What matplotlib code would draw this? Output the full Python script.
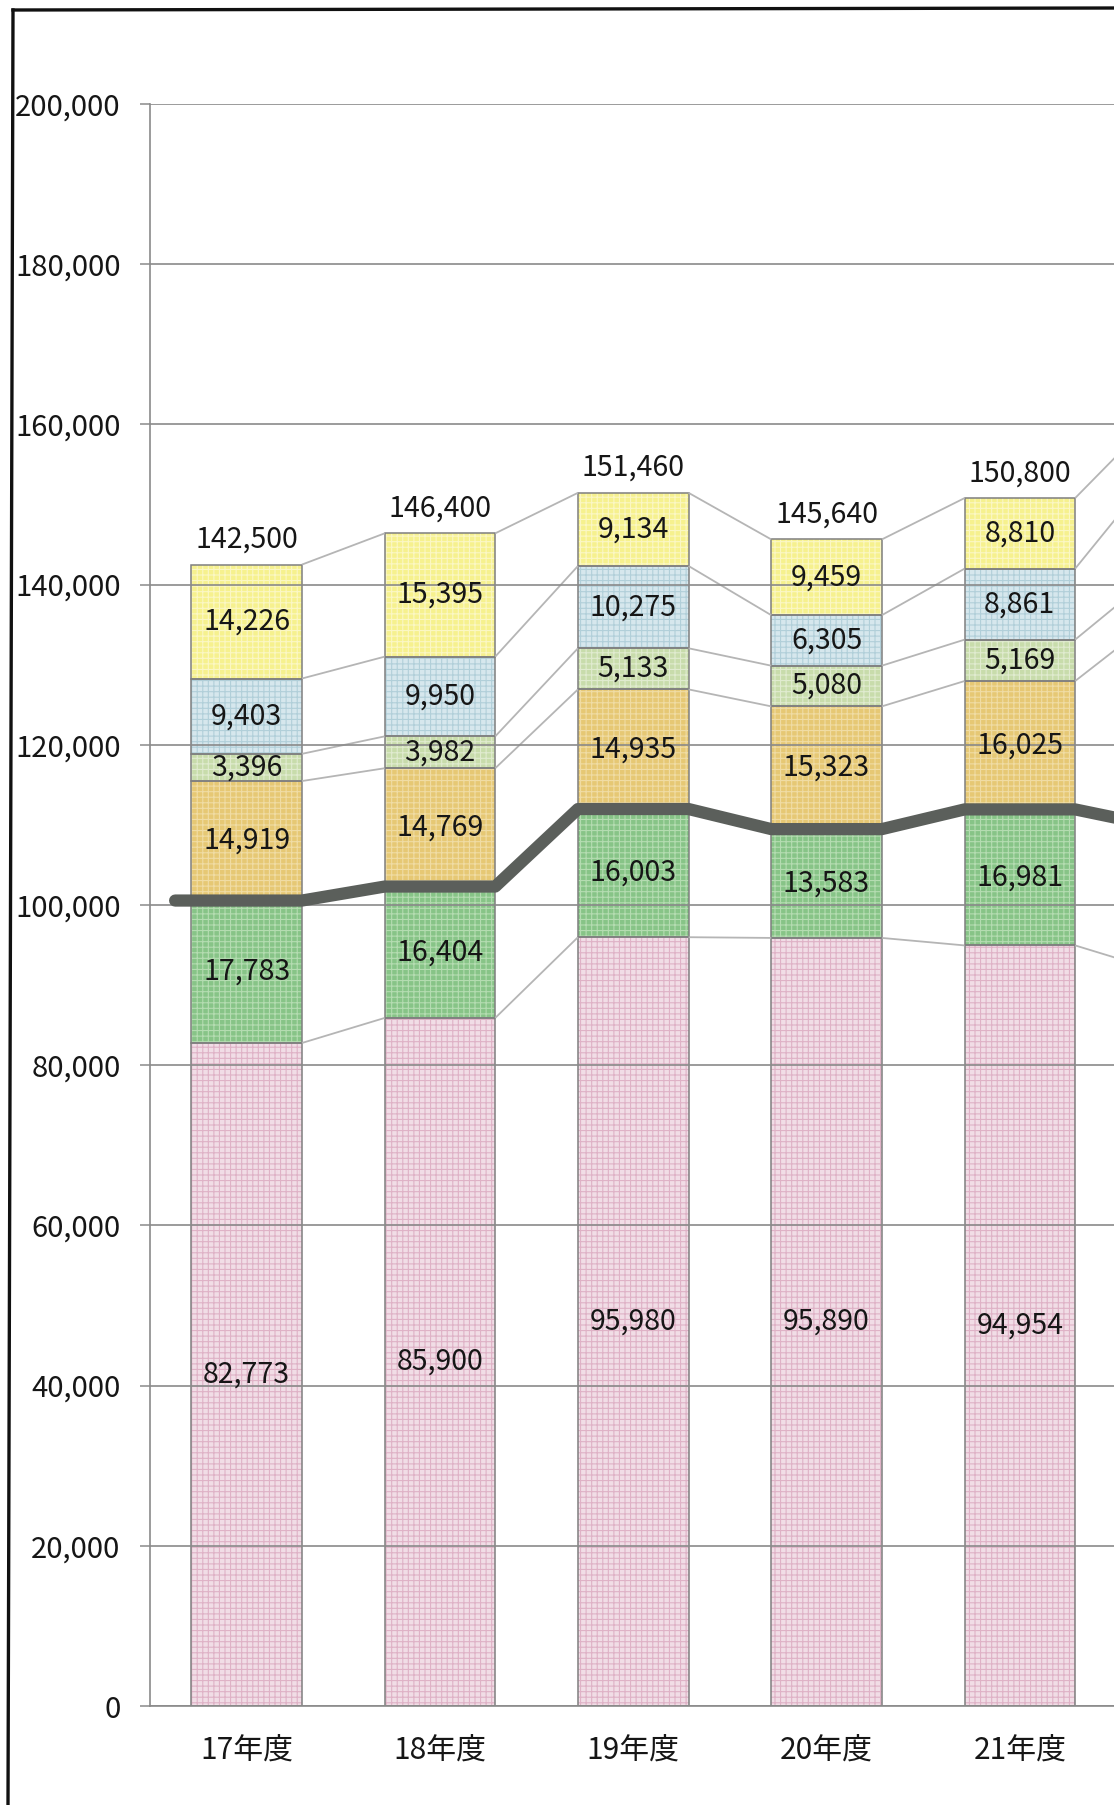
import matplotlib
matplotlib.use("Agg")
import matplotlib.pyplot as plt
from matplotlib.lines import Line2D
import numpy as np

plt.rcParams['font.family'] = ['Noto Sans CJK JP', 'DejaVu Sans']

# ---- data ----
categories = ['17年度', '18年度', '19年度', '20年度', '21年度', '22年度']
n_shown = 5  # the 22年度 column is cut off by the page edge
s_pink = [82773, 85900, 95980, 95890, 94954, 91800]
s_green = [17783, 16404, 16003, 13583, 16981, 18000]
s_tan = [14919, 14769, 14935, 15323, 16025, 26200]
s_lgreen = [3396, 3982, 5133, 5080, 5169, 5600]
s_blue = [9403, 9950, 10275, 6305, 8861, 13100]
s_yellow = [14226, 15395, 9134, 9459, 8810, 6600]
totals = [142500, 146400, 151460, 145640, 150800, 161300]
yticks = [0, 20000, 40000, 60000, 80000, 100000, 120000, 140000, 160000, 180000, 200000]

series = [s_pink, s_green, s_tan, s_lgreen, s_blue, s_yellow]
colors = ['#f1dde6', '#87c487', '#e6c874', '#c8dcab', '#d6e7ed', '#f6f18e']
hatch_colors = ['#dfb2c6', '#b4dcb1', '#f0dca4', '#e0ebcf', '#b1cfd9', '#fbf7c4']

W_PX, H_PX = 1114, 1805
fig = plt.figure(figsize=(W_PX / 100, H_PX / 100), dpi=100)
unit_px = 193.3
left_px, zero_px, top_px = 150, 1706, 104
ax = fig.add_axes([left_px / W_PX, (H_PX - zero_px) / H_PX,
                   len(categories) * unit_px / W_PX, (zero_px - top_px) / H_PX])

x = np.arange(len(categories)) + 0.5
bw = 0.572
hw = bw / 2

FS = 20.5
TXT = '#161616'

bottoms = np.zeros(len(categories))
tops = []
plt.rcParams['hatch.linewidth'] = 0.8
for vals, c, hc in zip(series, colors, hatch_colors):
    vals = np.array(vals, dtype=float)
    ax.bar(x, vals, bw, bottom=bottoms, color=c, edgecolor='none', linewidth=0, zorder=1)
    ax.bar(x, vals, bw, bottom=bottoms, facecolor='none', edgecolor=hc, hatch='+++',
           linewidth=0, zorder=1.05)
    ax.bar(x, vals, bw, bottom=bottoms, facecolor='none', edgecolor='#7f7f7f',
           linewidth=1.1, zorder=1.1)
    for i in range(n_shown):
        ax.text(x[i], bottoms[i] + vals[i] / 2, f'{int(vals[i]):,}', ha='center', va='center',
                fontsize=FS, color=TXT, zorder=5)
    bottoms = bottoms + vals
    tops.append(bottoms.copy())

# series lines between bars
for lvl in tops:
    for i in range(len(categories) - 1):
        ax.plot([x[i] + hw, x[i + 1] - hw], [lvl[i], lvl[i + 1]], color='#b5b5b5',
                lw=1.3, zorder=1.5, solid_capstyle='butt')

# totals
for i in range(n_shown):
    ax.annotate(f'{totals[i]:,}', (x[i], totals[i]), xytext=(0, 7), textcoords='offset points',
                ha='center', va='bottom', fontsize=FS, color=TXT, zorder=5)

# thick line at the top of the second series
line_vals = np.array(s_pink) + np.array(s_green)
lx, ly = [], []
for i in range(len(categories)):
    lx += [x[i] - (0.37 if i == 0 else hw), x[i] + hw]
    ly += [line_vals[i], line_vals[i]]
ax.plot(lx, ly, color='#5b5f5b', lw=8.8, solid_capstyle='round', solid_joinstyle='round', zorder=4)

ax.set_xlim(0, len(categories))
ax.set_ylim(0, 200000)
ax.set_yticks(yticks)
ax.set_yticklabels([f'{v:,}' for v in yticks], fontsize=21, color=TXT)
ax.set_xticks(x[:n_shown])
ax.set_xticklabels(categories[:n_shown], fontsize=21.5, color=TXT)
ax.tick_params(axis='y', length=7.2, width=1.1, color='#8a8a8a', pad=14)
ax.tick_params(axis='x', length=0, pad=21)
ax.set_axisbelow(False)
ax.yaxis.grid(True, color='#8a8a8a', lw=1.2)
for s in ['top', 'right']:
    ax.spines[s].set_visible(False)
for s in ['left', 'bottom']:
    ax.spines[s].set_color('#8a8a8a')
    ax.spines[s].set_linewidth(1.2)

# page frame (left and top edges of the scanned box)
fig.add_artist(Line2D([13 / W_PX, 8 / W_PX], [1 - 10 / H_PX, 0], transform=fig.transFigure,
                      color='#111111', lw=2.4))
fig.add_artist(Line2D([13 / W_PX, 1], [1 - 10 / H_PX, 1 - 8 / H_PX], transform=fig.transFigure,
                      color='#111111', lw=2.4))

fig.savefig('out.png', dpi=100)
